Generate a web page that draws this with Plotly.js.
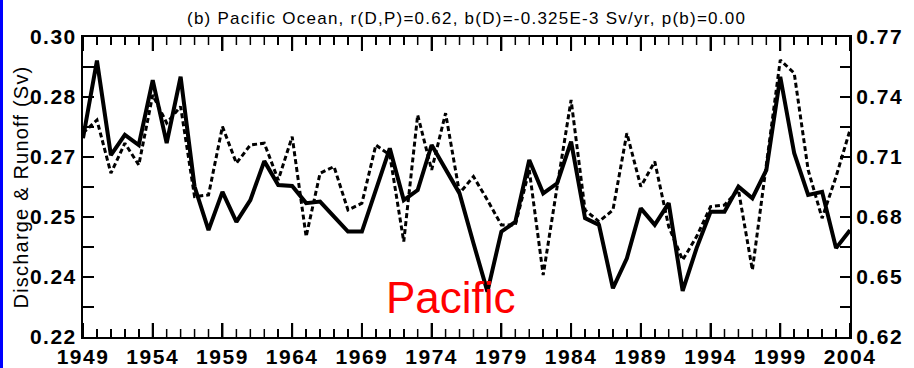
<!DOCTYPE html>
<html>
<head>
<meta charset="utf-8">
<script src="https://cdn.plot.ly/plotly-3.0.1.min.js"></script>
<style>
  html, body { margin: 0; padding: 0; background: #ffffff; }
  #chart { width: 914px; height: 368px; }
  #edge { position: absolute; left: 0; top: 0; width: 3px; height: 368px; background: #0000ff; z-index: 10; }
  #chart .xtick text, #chart .ytick text, #chart .y2tick text { letter-spacing: 1.5px; }
  #chart .ytitle { letter-spacing: 1.2px; }
  #chart .gtitle { letter-spacing: 1.25px; }
</style>
</head>
<body>
<div id="edge"></div>
<div id="chart"></div>
<script>
// Years 1949..2004
const years = [1949,1950,1951,1952,1953,1954,1955,1956,1957,1958,1959,1960,1961,1962,1963,1964,1965,1966,1967,1968,1969,1970,1971,1972,1973,1974,1975,1976,1977,1978,1979,1980,1981,1982,1983,1984,1985,1986,1987,1988,1989,1990,1991,1992,1993,1994,1995,1996,1997,1998,1999,2000,2001,2002,2003,2004];

// Discharge (solid, left axis, Sv)
const discharge = [0.2730,0.2937,0.2685,0.2739,0.2712,0.2885,0.2717,0.2894,0.2601,0.2485,0.2587,0.2507,0.2565,0.2669,0.2605,0.2603,0.2557,0.2561,0.2521,0.2481,0.2481,0.2592,0.2703,0.2565,0.2592,0.2712,0.2645,0.2583,0.2450,0.2321,0.2481,0.2507,0.2672,0.2583,0.2610,0.2721,0.2517,0.2499,0.2330,0.2410,0.2543,0.2499,0.2557,0.2323,0.2437,0.2534,0.2534,0.2601,0.2570,0.2645,0.2894,0.2690,0.2579,0.2587,0.2437,0.2485];

// Runoff (dashed, right axis, Sv)
const runoff = [0.722,0.7285,0.7019,0.7169,0.706,0.741,0.727,0.7352,0.6902,0.691,0.7252,0.7069,0.716,0.7169,0.6985,0.7202,0.6702,0.7019,0.7052,0.6835,0.6869,0.716,0.711,0.6677,0.731,0.7035,0.7319,0.6919,0.7002,0.6885,0.676,0.676,0.7035,0.651,0.6952,0.7385,0.6835,0.6777,0.6835,0.7219,0.6952,0.7077,0.6752,0.6585,0.6702,0.6852,0.686,0.6935,0.6535,0.7069,0.7585,0.7519,0.7035,0.6794,0.7002,0.7235];

// Axis ticks
const xRange = [1949, 2004];
const yLeftRange = [0.22, 0.30];
const yRightRange = [0.62, 0.77];
const yLeftTickVals = [0.22,0.228,0.236,0.244,0.252,0.26,0.268,0.276,0.284,0.292,0.30];
const yLeftTickText = ['0.22','','0.24','','0.25','','0.27','','0.28','','0.30'];
const yRightTickVals = [0.62,0.635,0.65,0.665,0.68,0.695,0.71,0.725,0.74,0.755,0.77];
const yRightTickText = ['0.62','','0.65','','0.68','','0.71','','0.74','','0.77'];

const titleText = '(b) Pacific Ocean, r(D,P)=0.62, b(D)=-0.325E-3 Sv/yr, p(b)=0.00';
const labelText = 'Pacific';

const traces = [
  { x: years, y: discharge, type: 'scatter', mode: 'lines', xaxis: 'x', yaxis: 'y',
    line: { color: '#000000', width: 4 }, hoverinfo: 'skip', showlegend: false },
  { x: years, y: runoff, type: 'scatter', mode: 'lines', xaxis: 'x', yaxis: 'y2',
    line: { color: '#000000', width: 3, dash: '5px,3px' }, hoverinfo: 'skip', showlegend: false }
];

const tickFont = { family: 'Liberation Sans, Arial, sans-serif', size: 21, color: '#000000', weight: 'bold' };

const layout = {
  width: 914, height: 368,
  margin: { l: 83, r: 64, t: 37, b: 31 },
  paper_bgcolor: '#ffffff', plot_bgcolor: 'rgba(0,0,0,0)',
  showlegend: false,
  title: { text: titleText, x: 0.5105, xanchor: 'center', y: 0.95, yanchor: 'middle',
           font: { family: 'Liberation Sans, Arial, sans-serif', size: 17, color: '#000000' } },
  xaxis: {
    range: xRange, tick0: 1949, dtick: 5,
    ticks: 'inside', ticklen: 14, tickwidth: 2, tickcolor: '#000000',
    minor: { dtick: 1, ticks: 'inside', ticklen: 8, tickwidth: 1.5, tickcolor: '#000000' },
    showline: true, linewidth: 2, linecolor: '#000000', mirror: 'ticks',
    showgrid: false, zeroline: false, tickfont: tickFont
  },
  yaxis: {
    range: yLeftRange, tickvals: yLeftTickVals, ticktext: yLeftTickText,
    ticks: 'inside', ticklen: 11, tickwidth: 2, tickcolor: '#000000',
    showline: true, linewidth: 2, linecolor: '#000000',
    showgrid: false, zeroline: false, tickfont: tickFont,
    title: { text: 'Discharge & Runoff (Sv)', standoff: 2,
             font: { family: 'Liberation Sans, Arial, sans-serif', size: 20, color: '#000000' } }
  },
  yaxis2: {
    range: yRightRange, tickvals: yRightTickVals, ticktext: yRightTickText,
    overlaying: 'y', side: 'right', anchor: 'x',
    ticks: 'inside', ticklen: 10, tickwidth: 2, tickcolor: '#000000',
    showline: true, linewidth: 2, linecolor: '#000000',
    showgrid: false, zeroline: false, tickfont: tickFont
  },
  annotations: [
    { text: labelText, xref: 'x', yref: 'y', x: 1970.6, y: 0.23053, xanchor: 'left', yanchor: 'middle',
      showarrow: false, font: { family: 'Liberation Sans, Arial, sans-serif', size: 44, color: '#ff0000' } }
  ]
};

const gd = document.getElementById('chart');
Plotly.newPlot(gd, traces, layout, { staticPlot: true, displayModeBar: false }).then(() => {
  try {
    // Re-stroke the x-axis tick marks (top and bottom) from the axis' own scale,
    // on top of everything, since the built-in ones do not show with the overlaid axis.
    const fl = gd._fullLayout;
    const xa = fl.xaxis;
    const sz = fl._size;
    const top = sz.t, bottom = sz.t + sz.h;
    const svg = document.querySelector('#chart svg.main-svg');
    const ns = 'http://www.w3.org/2000/svg';
    const g = document.createElementNS(ns, 'g');
    g.setAttribute('class', 'xtick-overlay');
    for (let yr = xRange[0]; yr <= xRange[1]; yr++) {
      const px = sz.l + xa.l2p(yr);
      if (!isFinite(px)) continue;
      const major = (yr - xRange[0]) % 5 === 0;
      const len = major ? 14 : 8;
      const p = document.createElementNS(ns, 'path');
      p.setAttribute('d', 'M' + px + ',' + bottom + 'v-' + len + 'M' + px + ',' + top + 'v' + len);
      p.setAttribute('style', 'stroke:#000000;stroke-width:' + (major ? 2 : 1.5) + 'px;fill:none;');
      g.appendChild(p);
    }
    svg.appendChild(g);
  } catch (e) { /* keep the chart as drawn */ }
});
</script>
</body>
</html>
